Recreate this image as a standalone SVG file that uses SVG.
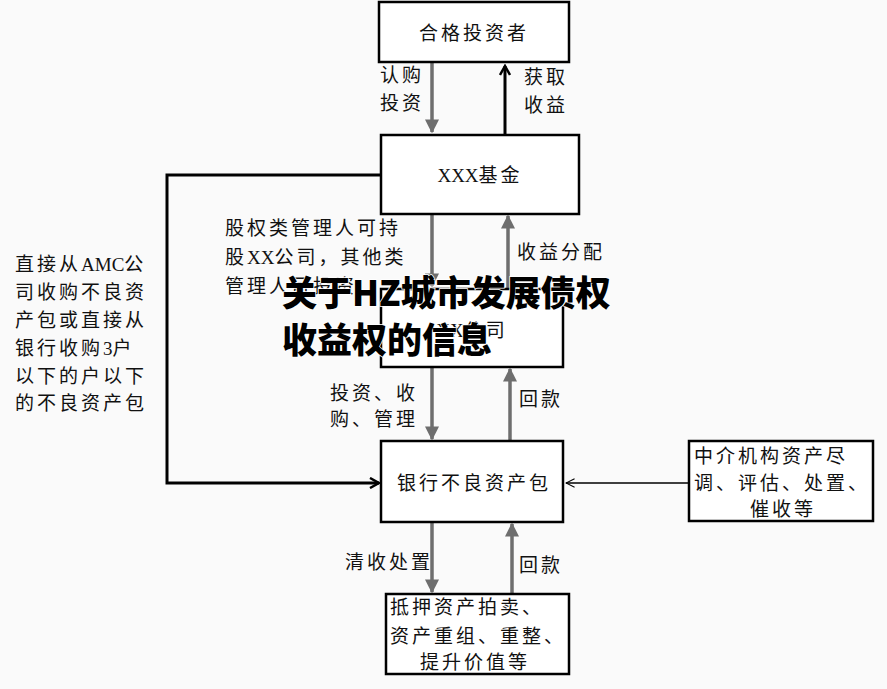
<svg xmlns="http://www.w3.org/2000/svg" width="887" height="689" viewBox="0 0 887 689">
<defs>
<marker id="ag" viewBox="0 0 10 10" refX="9" refY="5" markerWidth="4" markerHeight="4" orient="auto" markerUnits="strokeWidth"><path d="M0,0 L10,5 L0,10 z" fill="#6e6e6e"/></marker>
<marker id="ab" viewBox="0 0 12 12" refX="10" refY="6" markerWidth="4" markerHeight="4" orient="auto" markerUnits="strokeWidth"><path d="M1,1 L10,6 L1,11" fill="none" stroke="#000" stroke-width="2.5"/></marker>
<marker id="at" viewBox="0 0 14 14" refX="13" refY="7" markerWidth="10" markerHeight="10" orient="auto" markerUnits="userSpaceOnUse"><path d="M1,1 L13,7 L1,13" fill="none" stroke="#000" stroke-width="1.5"/></marker>
<style>
.box{fill:#fff;stroke:#000;stroke-width:2.5}
.t{font-family:"Liberation Serif","Noto Sans CJK SC",serif;font-size:19px;fill:#111;letter-spacing:3px}
.l{letter-spacing:0}
.c{text-anchor:middle}
.g{stroke:#6e6e6e;stroke-width:3.5;fill:none}
.k{stroke:#000;stroke-width:3;fill:none}
.title{font-family:"Noto Sans CJK SC","Noto Sans",sans-serif;font-weight:900;font-size:35px;fill:#000;stroke:#fff;stroke-width:1.5;paint-order:stroke}
</style>
</defs>
<rect width="887" height="689" fill="#fafafa"/>
<g id="connectors">
<line class="g" x1="432" y1="62" x2="432" y2="132" marker-end="url(#ag)"/>
<line class="k" x1="505" y1="134" x2="505" y2="66" marker-end="url(#ab)"/>
<line class="g" x1="432" y1="214" x2="432" y2="286" marker-end="url(#ag)"/>
<line class="g" x1="508" y1="289" x2="508" y2="216" marker-end="url(#ag)"/>
<line class="g" x1="432" y1="367" x2="432" y2="439" marker-end="url(#ag)"/>
<line class="g" x1="510" y1="441" x2="510" y2="369" marker-end="url(#ag)"/>
<line class="g" x1="432" y1="522" x2="432" y2="592" marker-end="url(#ag)"/>
<line class="g" x1="512" y1="594" x2="512" y2="524" marker-end="url(#ag)"/>
<polyline class="k" points="381,175 167,175 167,483 379,483" marker-end="url(#ab)"/>
<line x1="689" y1="483" x2="566" y2="483" stroke="#000" stroke-width="1.5" marker-end="url(#at)"/>
</g>
<g id="n-investor"><rect class="box" x="379" y="2" width="190" height="60"/><text class="t c" x="474" y="40">合格投资者</text></g>
<g id="n-fund"><rect class="box" x="381" y="135" width="198" height="79"/><text class="t c" x="480" y="182"><tspan class="l">XXX</tspan>基金</text></g>
<g id="n-company"><rect class="box" x="381" y="289" width="182" height="78"/><text class="t c" x="472" y="337"><tspan class="l">XX</tspan>公司</text></g>
<g id="n-bank"><rect class="box" x="381" y="441" width="182" height="81"/><text class="t c" x="474" y="490">银行不良资产包</text></g>
<g id="n-agency"><rect class="box" x="689" y="441" width="184" height="80"/><text class="t" x="694" y="463">中介机构资产尽</text><text class="t" x="694" y="490">调、评估、处置、</text><text class="t c" x="783" y="516">催收等</text></g>
<g id="n-disposal"><rect class="box" x="386" y="594" width="183" height="80"/><text class="t" x="390" y="614">抵押资产拍卖、</text><text class="t" x="390" y="643">资产重组、重整、</text><text class="t c" x="475" y="669">提升价值等</text></g>
<g id="labels">
<text class="t" x="380" y="82">认购</text><text class="t" x="380" y="110">投资</text>
<text class="t" x="524" y="84">获取</text><text class="t" x="524" y="112">收益</text>
<text class="t" x="225" y="235">股权类管理人可持</text>
<text class="t" x="225" y="264">股<tspan class="l">XX</tspan>公司，其他类</text>
<text class="t" x="225" y="293">管理人可投资</text>
<text class="t" x="517" y="259">收益分配</text>
<text class="t" x="330" y="400">投资、收</text><text class="t" x="330" y="426">购、管理</text>
<text class="t" x="519" y="406">回款</text>
<text class="t" x="345" y="569">清收处置</text>
<text class="t" x="519" y="572">回款</text>
<text class="t" x="15" y="271">直接从<tspan class="l">AMC</tspan>公</text>
<text class="t" x="15" y="299">司收购不良资</text>
<text class="t" x="15" y="327">产包或直接从</text>
<text class="t" x="15" y="355">银行收购<tspan class="l">3</tspan>户</text>
<text class="t" x="15" y="383">以下的户以下</text>
<text class="t" x="15" y="410">的不良资产包</text>
</g>
<g id="overlay"><text class="title" x="282" y="306">关于HZ城市发展债权</text><text class="title" x="282" y="353">收益权的信息</text></g>
</svg>
